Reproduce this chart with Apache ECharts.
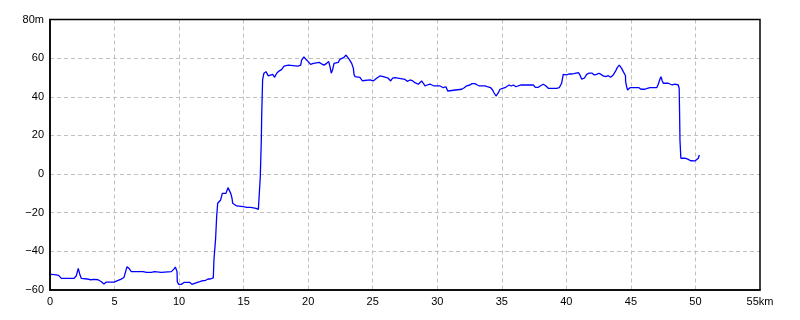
<!DOCTYPE html>
<html>
<head>
<meta charset="utf-8">
<script src="https://cdn.jsdelivr.net/npm/echarts@6/dist/echarts.min.js"></script>
<style>
html,body{margin:0;padding:0;background:#fff;}
#chart{width:800px;height:320px;}
</style>
</head>
<body>
<div id="chart"></div>
<script>
// Distance (km) along the route
const distKm = [
  0.05, 0.36, 0.49, 0.67, 0.88, 1.86, 2.04, 2.19, 2.30, 2.43, 2.87, 3.15, 3.46, 3.72, 3.98, 4.18, 4.36, 4.96,
  5.14, 5.47, 5.73, 5.96, 6.12, 6.30, 7.20, 7.33, 7.49, 7.85, 8.10, 8.62, 9.40, 9.60, 9.71, 9.84, 9.86, 9.97,
  10.17, 10.38, 10.56, 10.69, 10.84, 11.00, 11.20, 11.60, 11.85, 12.03, 12.24, 12.42, 12.52, 12.65, 12.70,
  12.83, 12.91, 12.99, 13.12, 13.22, 13.35, 13.63, 13.79, 13.89, 14.00, 14.10, 14.15, 14.25, 14.46, 14.97,
  15.10, 15.24, 15.55, 15.65, 15.96, 16.14, 16.27, 16.29, 16.37, 16.40, 16.47, 16.57, 16.73, 16.91, 17.04,
  17.25, 17.40, 17.56, 17.74, 17.95, 18.13, 18.28, 18.46, 18.59, 19.19, 19.31, 19.42, 19.49, 19.67, 19.83,
  20.00, 20.19, 20.40, 20.53, 20.86, 21.04, 21.22, 21.43, 21.59, 21.69, 21.79, 21.90, 22.00, 22.08, 22.33,
  22.46, 22.60, 22.77, 22.93, 23.06, 23.18, 23.37, 23.50, 23.55, 23.63, 24.01, 24.19, 24.27, 24.79, 25.04,
  25.30, 25.56, 25.82, 25.95, 26.20, 26.39, 26.54, 26.72, 26.86, 27.50, 27.68, 27.89, 28.10, 28.27, 28.53,
  28.66, 28.79, 28.92, 29.05, 29.23, 29.43, 29.57, 29.74, 30.21, 30.47, 30.67, 30.81, 30.90, 31.89, 32.09,
  32.28, 32.53, 32.69, 32.92, 33.10, 33.26, 33.69, 33.87, 34.13, 34.29, 34.39, 34.55, 34.65, 34.73, 34.86,
  35.06, 35.24, 35.37, 35.57, 35.73, 35.89, 36.10, 36.28, 36.46, 36.72, 37.44, 37.60, 37.83, 38.00, 38.21,
  38.40, 38.60, 38.73, 38.93, 39.25, 39.45, 39.56, 39.63, 39.76, 39.89, 40.02, 40.20, 40.36, 40.46, 40.59,
  40.74, 40.93, 41.05, 41.18, 41.31, 41.39, 41.57, 41.77, 42.00, 42.16, 42.34, 42.52, 42.68, 42.86, 43.04,
  43.25, 43.43, 43.63, 43.79, 43.94, 44.10, 44.28, 44.41, 44.58, 44.59, 44.67, 44.74, 44.85, 44.93, 45.31,
  45.44, 45.62, 45.78, 46.09, 46.27, 46.48, 47.00, 47.12, 47.25, 47.33, 47.43, 47.51, 47.89, 48.02, 48.20,
  48.41, 48.54, 48.67, 48.74, 48.77, 48.80, 48.87, 49.19, 49.44, 49.63, 49.96, 50.10, 50.22, 50.30
];
// Elevation (m)
const elevM = [
  -51.9, -52.0, -52.6, -52.4, -54.0, -54.0, -52.6, -48.8, -51.7, -54.0, -54.3, -54.7, -54.5, -54.7, -55.7, -56.9, -55.9, -55.9,
  -55.4, -54.5, -53.5, -48.0, -48.8, -50.5, -50.5, -51.4, -50.9, -50.9, -50.5, -50.9, -50.5, -49.2, -48.1, -50.5, -55.7, -57.1,
  -57.1, -56.1, -56.1, -57.0, -56.1, -57.1, -56.6, -55.7, -55.1, -55.1, -54.3, -54.3, -54.0, -53.7, -44.5,
  -33.3, -22.0, -15.1, -15.1, -13.4, -10.0, -10.0, -7.0, -7.9, -10.0, -12.5, -15.1, -16.0, -16.5, -16.9,
  -17.4, -17.2, -17.2, -17.8, -17.8, -18.3, -17.4, -1.4, 17.6, 30.6, 48.7, 52.2, 53.0, 50.8, 51.8,
  51.6, 50.1, 52.2, 53.3, 54.2, 55.9, 56.8, 56.4, 55.9, 55.9, 56.4, 56.4, 59.0, 60.7, 59.4,
  58.2, 56.8, 57.3, 57.8, 57.8, 57.0, 56.4, 57.3, 58.2, 55.6, 52.2, 54.2, 57.3, 57.8, 57.8,
  59.4, 60.4, 60.4, 61.6, 61.1, 59.4, 57.3, 54.7, 51.6, 50.4, 50.1, 48.3, 49.0, 48.7, 48.2,
  49.6, 50.8, 50.4, 49.6, 49.6, 48.2, 49.6, 49.9, 49.0, 49.0, 48.0, 48.7, 48.2, 47.3, 46.5,
  46.5, 48.2, 47.0, 45.6, 46.1, 46.6, 47.0, 45.6, 45.6, 44.7, 45.2, 43.0, 43.9, 43.9, 44.7,
  45.7, 46.1, 46.8, 46.8, 46.1, 45.6, 45.6, 45.2, 44.7, 43.5, 42.1, 40.4, 40.0, 42.1, 43.9,
  44.4, 44.7, 45.6, 46.1, 45.6, 46.1, 45.2, 45.7, 46.1, 46.1, 46.1, 44.9, 44.9, 45.7, 46.5,
  45.7, 44.4, 45.2, 44.4, 44.4, 44.7, 45.2, 47.0, 51.6, 51.6, 51.3, 51.8, 51.8, 51.3, 52.0,
  52.5, 52.5, 51.3, 49.2, 48.2, 49.6, 51.6, 52.2, 52.2, 51.3, 51.6, 52.2, 51.6, 50.8, 50.4,
  50.9, 50.1, 51.3, 53.0, 55.1, 56.4, 54.7, 53.0, 50.9, 47.8, 45.2, 43.5, 44.0, 44.7, 44.7,
  45.2, 44.7, 43.9, 43.9, 44.4, 44.7, 44.7, 46.5, 49.2, 50.4, 48.2, 47.0, 47.0, 46.5, 46.1,
  46.5, 45.6, 46.1, 44.4, 32.3, 17.6, 8.2, 8.2, 7.6, 6.9, 6.8, 7.0, 8.2, 9.9
];
// Axis tick settings
const xTicks = { min: 0, max: 55, step: 5, unit: 'km' };
const yTicks = { min: -60, max: 80, step: 20, unit: 'm' };

const points = distKm.map((d, i) => [d, elevM[i]]);
const chart = echarts.init(document.getElementById('chart'), null, { renderer: 'canvas' });
const labelFont = { color: '#000', fontSize: 11, fontFamily: 'Liberation Sans, DejaVu Sans, sans-serif' };
chart.setOption({
  animation: false,
  backgroundColor: '#fff',
  grid: { left: 50, right: 40, top: 19.5, bottom: 30, show: true, borderColor: '#000', borderWidth: 1.5, backgroundColor: 'transparent', z: 3 },
  xAxis: {
    type: 'value', min: xTicks.min, max: xTicks.max, interval: xTicks.step,
    axisLine: { show: true, onZero: false, lineStyle: { color: '#000', width: 1.5 } },
    axisTick: { show: false },
    axisLabel: Object.assign({ margin: 6, formatter: v => v === xTicks.max ? v + xTicks.unit : String(v) }, labelFont),
    splitLine: { show: true, showMinLine: false, showMaxLine: false, lineStyle: { color: '#c0c0c0', type: [4, 3], width: 1 } }
  },
  yAxis: {
    type: 'value', min: yTicks.min, max: yTicks.max, interval: yTicks.step,
    axisLine: { show: true, onZero: false, lineStyle: { color: '#000', width: 1.5 } },
    axisTick: { show: false },
    axisLabel: Object.assign({ margin: 6, formatter: v => v === yTicks.max ? v + yTicks.unit : String(v).replace('-', '\u2212') }, labelFont),
    splitLine: { show: true, showMinLine: false, showMaxLine: false, lineStyle: { color: '#c0c0c0', type: [4, 3], width: 1 } }
  },
  series: [{
    type: 'line', data: points, showSymbol: false, symbol: 'none',
    lineStyle: { color: '#0000ff', width: 1.3 }, z: 2
  }]
});
</script>
</body>
</html>
